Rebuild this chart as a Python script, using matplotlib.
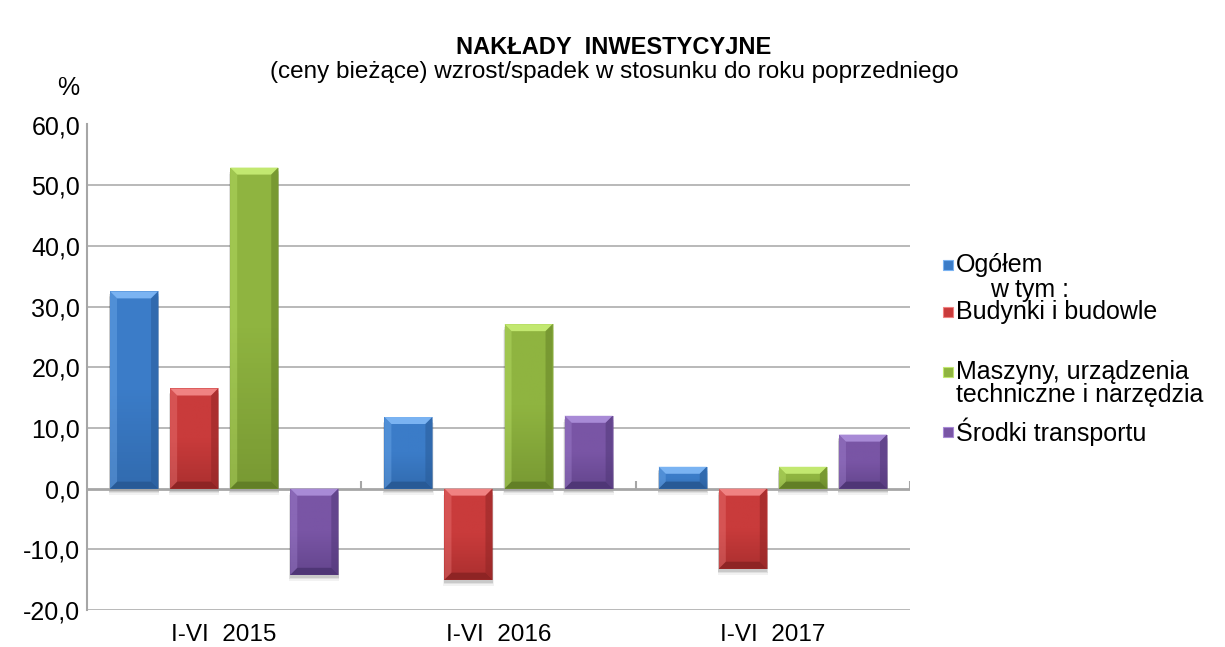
import matplotlib
matplotlib.use("Agg")
import matplotlib.pyplot as plt
import numpy as np
from matplotlib.patches import Polygon, Rectangle

plt.rcParams['font.family'] = ['Liberation Sans', 'DejaVu Sans']

# Data
categories = ["I-VI  2015", "I-VI  2016", "I-VI  2017"]
ogolem = [32.5, 11.8, 3.6]
budynki = [16.5, -15.0, -13.2]
maszyny = [52.9, 27.1, 3.6]
srodki = [-14.2, 12.0, 8.9]
series_names = ["Ogółem", "Budynki i budowle",
                "Maszyny, urządzenia\ntechniczne i narzędzia", "Środki transportu"]
y_ticks = [-20, -10, 0, 10, 20, 30, 40, 50, 60]

# base / light (top bevel) / dark (bottom bevel)
colors = ["#3b7cc8", "#c93b3b", "#8fb440", "#7955a5"]
lights = ["#7ab3f2", "#f08282", "#c2e870", "#a88ad6"]
darks = ["#285a96", "#8e2424", "#627f26", "#4f3676"]

fig = plt.figure(figsize=(12.25, 6.47), dpi=100)
ax = fig.add_axes([87 / 1225, 1 - 610 / 647, (910 - 87) / 1225, (610 - 124.5) / 647])

x = np.arange(len(categories))
step = 0.219
width = 0.175
all_series = [ogolem, budynki, maszyny, srodki]

ax.set_xlim(-0.5, len(categories) - 0.5)
ax.set_ylim(-20, 60)

# pixel -> data conversion for the bevel size
px_x = (len(categories)) / (910 - 87)
px_y = 80 / (610 - 124.5)
bev = 7

for i, vals in enumerate(all_series):
    pos = x + (i - 1.5) * step
    bars = ax.bar(pos, vals, width, color=colors[i], zorder=3, linewidth=0)
    for b in bars:
        x0 = b.get_x()
        x1 = x0 + b.get_width()
        y0 = min(b.get_y(), b.get_y() + b.get_height())
        y1 = max(b.get_y(), b.get_y() + b.get_height())
        dx = bev * px_x
        dy = bev * px_y
        # soft shadow
        for k, a in enumerate([0.10, 0.07, 0.05]):
            sx = (2 + k) * px_x
            sy = (3 + 1.5 * k) * px_y
            ax.add_patch(Rectangle((x0 - sx * 0.3, y0 - sy), (x1 - x0) + sx * 0.6, (y1 - y0),
                                   color="black", alpha=a, lw=0, zorder=2))
        # vertical gradient on the body
        grad = np.linspace(0, 1, 64).reshape(-1, 1)
        im = ax.imshow(grad, extent=(x0, x1, y0, y1), aspect="auto",
                       cmap=matplotlib.colors.LinearSegmentedColormap.from_list(
                           "g", [darks[i], colors[i], colors[i]]),
                       origin="lower", zorder=3.1, alpha=0.5)
        im.set_clip_path(b)
        # bevels
        ax.add_patch(Polygon([(x0, y1), (x1, y1), (x1 - dx, y1 - dy), (x0 + dx, y1 - dy)],
                             color=lights[i], lw=0, zorder=3.2))
        ax.add_patch(Polygon([(x0, y0), (x1, y0), (x1 - dx, y0 + dy), (x0 + dx, y0 + dy)],
                             color=darks[i], lw=0, zorder=3.2))
        ax.add_patch(Polygon([(x0, y1), (x0 + dx, y1 - dy), (x0 + dx, y0 + dy), (x0, y0)],
                             color=lights[i], alpha=0.35, lw=0, zorder=3.2))
        ax.add_patch(Polygon([(x1, y1), (x1 - dx, y1 - dy), (x1 - dx, y0 + dy), (x1, y0)],
                             color=darks[i], alpha=0.5, lw=0, zorder=3.2))

# grid and axes
for t in y_ticks:
    if t != 0:
        ax.axhline(t, color="#b3b3b3", lw=1.3, zorder=1)
ax.axhline(0, color="#a6a6a6", lw=2, zorder=2.5)
ax.vlines(x + 0.5, 0, 1.3, color="#a6a6a6", lw=1.5, zorder=2.5)

for s in ["top", "right", "bottom"]:
    ax.spines[s].set_visible(False)
ax.spines["left"].set_color("#a6a6a6")
ax.spines["left"].set_linewidth(1.5)

ax.set_yticks(y_ticks)
ax.set_yticklabels([f"{t:.1f}".replace(".", ",") for t in y_ticks], fontsize=18)
ax.set_xticks(x)
ax.set_xticklabels(categories, fontsize=17.5)
ax.tick_params(axis="both", length=0)
ax.tick_params(axis="x", pad=10)
ax.tick_params(axis="y", pad=5)
ax.set_facecolor("none")

fig.text(68 / 1225, 1 - 88 / 647, "%", fontsize=18, ha="center", va="center")
fig.text(614 / 1225, 1 - 47 / 647, "NAKŁADY  INWESTYCYJNE", fontsize=17,
         fontweight="bold", ha="center", va="center")
fig.text(614 / 1225, 1 - 72 / 647,
         "(ceny bieżące) wzrost/spadek w stosunku do roku poprzedniego",
         fontsize=17.5, ha="center", va="center")

# legend, drawn by hand to keep the uneven spacing
leg_y = [265, 312, 372, 432]
for i, name in enumerate(series_names):
    yc = leg_y[i]
    fig.patches.append(Rectangle((943 / 1225, 1 - (yc + 5) / 647), 10 / 1225, 10 / 647,
                                 transform=fig.transFigure, facecolor=colors[i],
                                 edgecolor=lights[i], lw=0.8))
    lines = name.split("\n")
    for j, ln in enumerate(lines):
        fig.text(956 / 1225, 1 - (yc + j * 23) / 647, ln, fontsize=18,
                 ha="left", va="center")
fig.text(990 / 1225, 1 - 290 / 647, "w tym :", fontsize=18, ha="left", va="center")

fig.savefig("out.png", dpi=100)
